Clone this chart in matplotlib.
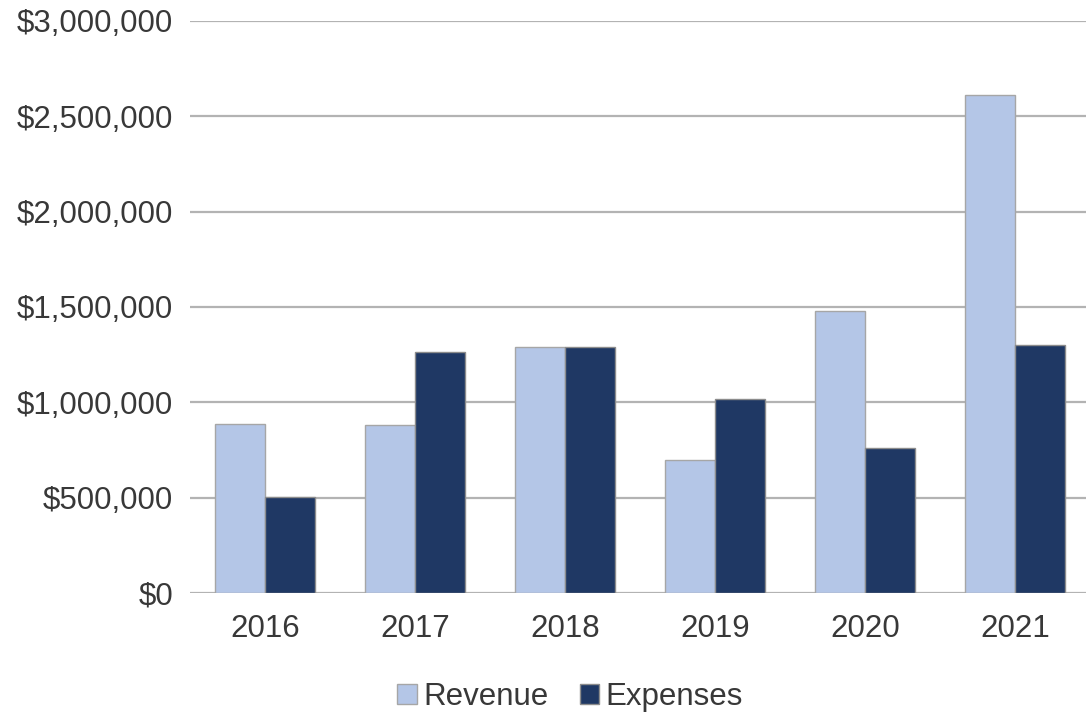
import matplotlib.pyplot as plt
import numpy as np
from matplotlib.ticker import FuncFormatter

plt.rcParams['font.family'] = ['Liberation Sans', 'DejaVu Sans']

# dados
anos = ['2016', '2017', '2018', '2019', '2020', '2021']
receita = [886000, 883000, 1292000, 695000, 1480000, 2610000]
despesas = [503000, 1262000, 1292000, 1016000, 759000, 1302000]

cor_receita = '#b4c6e7'
cor_despesas = '#1f3864'

fig = plt.figure(figsize=(10.86, 7.15), dpi=100)
ax = fig.add_axes([190 / 1086, 122 / 715, 900 / 1086, 572 / 715])

x = np.arange(len(anos))
largura = 1 / 3

ax.bar(x - largura / 2, receita, largura, color=cor_receita, edgecolor='#a6a6a6',
       linewidth=1, label='Revenue', zorder=3)
ax.bar(x + largura / 2, despesas, largura, color=cor_despesas, edgecolor='#8c8c8c',
       linewidth=1, label='Expenses', zorder=3)

ax.set_xlim(-0.5, len(anos) - 0.5)
ax.set_ylim(0, 3000000)
ax.set_yticks(np.arange(0, 3000001, 500000))
ax.yaxis.set_major_formatter(FuncFormatter(lambda v, p: '${:,.0f}'.format(v)))
ax.set_xticks(x)
ax.set_xticklabels(anos)

# grade horizontal atrás das barras
ax.grid(axis='y', color='#b3b3b3', linewidth=1.6, zorder=0)
ax.set_axisbelow(True)
for lado in ['top', 'right', 'left', 'bottom']:
    ax.spines[lado].set_visible(False)

ax.tick_params(axis='y', length=0, pad=12, labelsize=22.5, labelcolor='#383838')
ax.tick_params(axis='x', length=0, pad=15, labelsize=22.5, labelcolor='#383838')

leg = fig.legend(loc='center', bbox_to_anchor=(570 / 1086, 1 - 697 / 715), ncol=2,
                 frameon=False, fontsize=22.5, handlelength=0.62, handleheight=0.62,
                 handletextpad=0.2, columnspacing=1.0, labelcolor='#383838')

plt.savefig('out.png', dpi=100)
